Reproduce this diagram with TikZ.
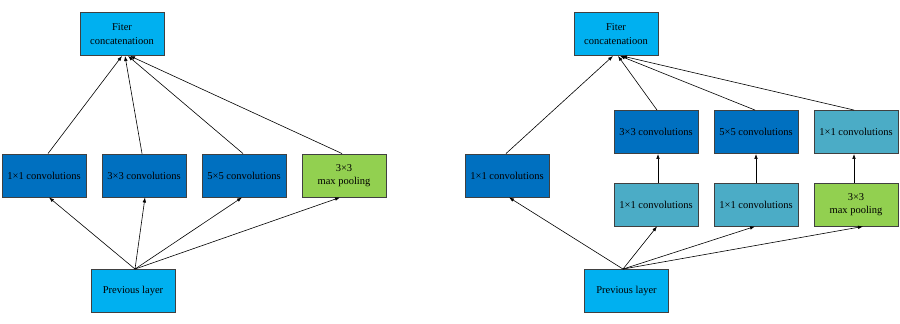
\documentclass[tikz,border=0pt]{standalone}
\usepackage{fontspec}
\setmainfont{Liberation Serif}
\usetikzlibrary{arrows.meta}
\definecolor{lightblue}{HTML}{00B0F0}
\definecolor{darkblue}{HTML}{0070C0}
\definecolor{tealblue}{HTML}{4BACC6}
\definecolor{poolgreen}{HTML}{92D050}
\definecolor{edgegray}{HTML}{404040}
\tikzset{
  box/.style={draw=edgegray, line width=0.9pt, minimum width=84pt, minimum height=43pt,
    inner sep=0pt, align=center, font=\fontsize{10.5}{13.3}\selectfont},
  io/.style={box, fill=lightblue},
  conv/.style={box, fill=darkblue},
  red/.style={box, fill=tealblue},
  pool/.style={box, fill=poolgreen},
  arr/.style={-{Latex[length=5pt,width=3.6pt]}, line width=0.6pt, black}
}
\begin{document}
\begin{tikzpicture}[x=1pt,y=-1pt]
\useasboundingbox (0,0) rectangle (900,324);
% left
\node[io]   (Lcat)  at (122,34)    {Fiter\\concatenatioon};
\node[conv] (La)    at (44,175.5)  {1×1 convolutions};
\node[conv] (Lb)    at (144,175.5) {3×3 convolutions};
\node[conv] (Lc)    at (244,175.5) {5×5 convolutions};
\node[pool] (Ld)    at (344,175.5) {3×3\\max pooling};
\node[io]   (Lprev) at (133,291)   {Previous layer};
\draw[arr] ([xshift=4pt]La.north)  -- ([xshift=0pt]Lcat.south);
\draw[arr] ([xshift=-2pt]Lb.north) -- ([xshift=3pt]Lcat.south);
\draw[arr] ([xshift=-1pt]Lc.north) -- ([xshift=6pt]Lcat.south);
\draw[arr] ([xshift=-2pt]Ld.north) -- ([xshift=8pt]Lcat.south);
\draw[arr] ([xshift=2pt]Lprev.north) -- ([xshift=5pt]La.south);
\draw[arr] ([xshift=2pt]Lprev.north) -- ([xshift=1pt]Lb.south);
\draw[arr] ([xshift=2pt]Lprev.north) -- ([xshift=-2pt]Lc.south);
\draw[arr] ([xshift=2pt]Lprev.north) -- ([xshift=-4pt]Ld.south);
% right
\node[io]   (Rcat)  at (616,34)    {Fiter\\concatenatioon};
\node[conv] (Ra)    at (507,175.5) {1×1 convolutions};
\node[conv] (Rb)    at (656,132)   {3×3 convolutions};
\node[conv] (Rc)    at (756,132)   {5×5 convolutions};
\node[red]  (Rd)    at (856,132)   {1×1 convolutions};
\node[red]  (Rm)    at (656,204.5) {1×1 convolutions};
\node[red]  (Rn)    at (756,204.5) {1×1 convolutions};
\node[pool] (Rp)    at (856,204.5) {3×3\\max pooling};
\node[io]   (Rprev) at (626.5,291) {Previous layer};
\draw[arr] ([xshift=-1pt]Ra.north) -- ([xshift=-3pt]Rcat.south);
\draw[arr] ([xshift=1pt]Rb.north)  -- ([xshift=2pt]Rcat.south);
\draw[arr] ([xshift=-1pt]Rc.north) -- ([xshift=4pt]Rcat.south);
\draw[arr] ([xshift=-2pt]Rd.north) -- ([xshift=6pt]Rcat.south);
\draw[arr] ([xshift=2pt]Rm.north)  -- ([xshift=2pt]Rb.south);
\draw[arr] (Rn.north) -- (Rc.south);
\draw[arr] ([xshift=-2pt]Rp.north) -- ([xshift=-2pt]Rd.south);
\draw[arr] ([xshift=-3.5pt]Rprev.north) -- ([xshift=2pt]Ra.south);
\draw[arr] ([xshift=-3.5pt]Rprev.north) -- ([xshift=1pt]Rm.south);
\draw[arr] ([xshift=-3.5pt]Rprev.north) -- ([xshift=-1pt]Rn.south);
\draw[arr] ([xshift=-3.5pt]Rprev.north) -- ([xshift=7pt]Rp.south);
\end{tikzpicture}
\end{document}
